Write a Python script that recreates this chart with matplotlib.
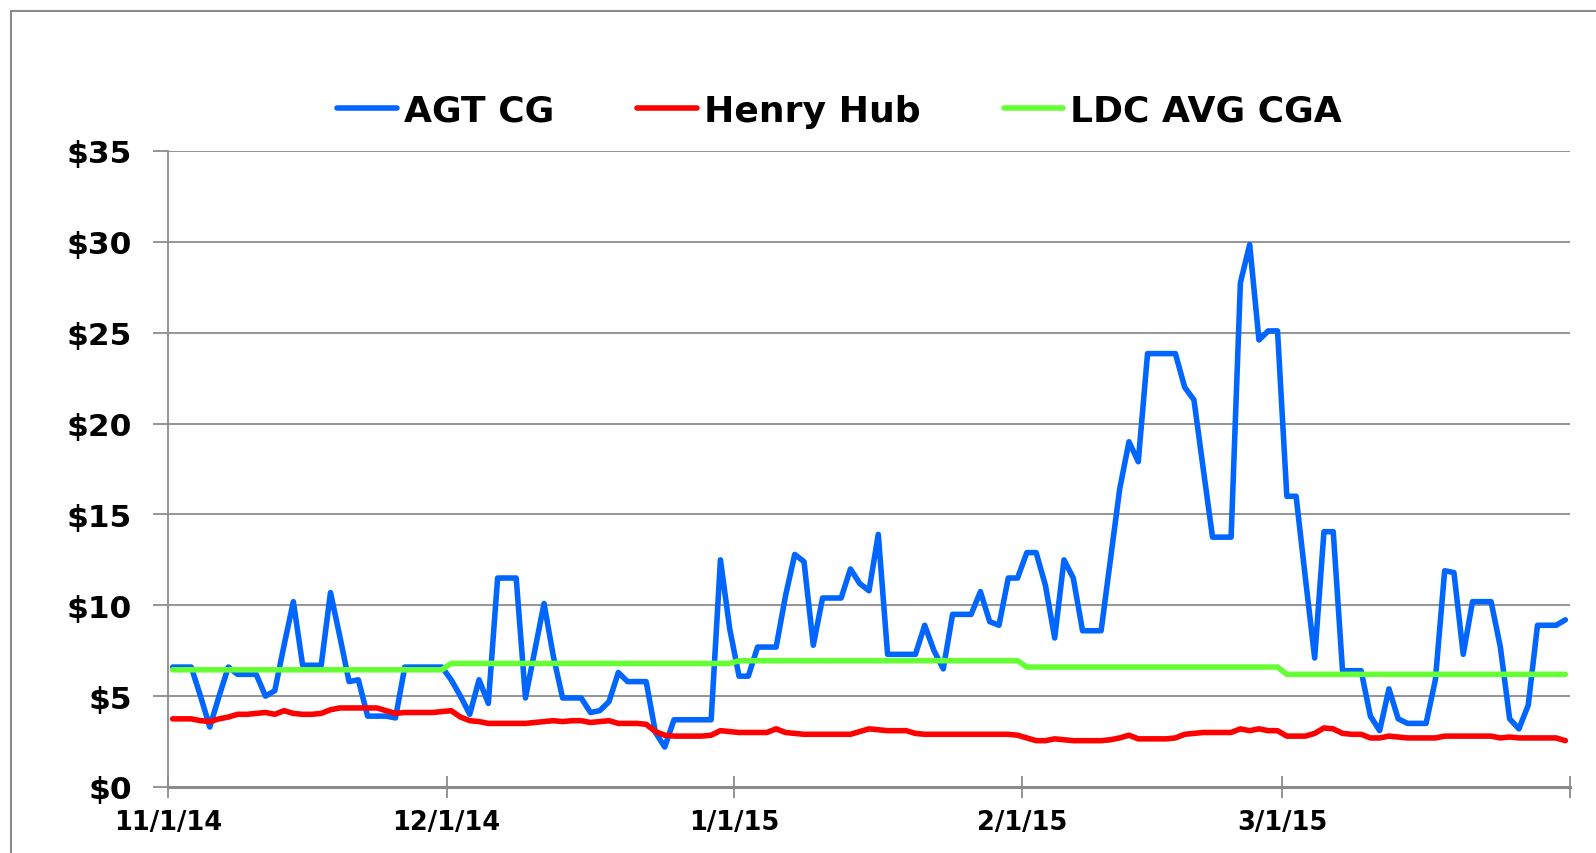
import numpy as np
import pandas as pd
import matplotlib
matplotlib.use('Agg')
import matplotlib.pyplot as plt
import matplotlib.dates as mdates
from matplotlib.patches import Rectangle

# ===================== DATA =====================
dates = pd.date_range('2014-11-01', '2015-03-31', freq='D')

agt_cg = [
    6.6, 6.6, 6.6, 5.0, 3.3, 5.0, 6.6, 6.2, 6.2, 6.2,
    5.0, 5.3, 7.8, 10.2, 6.7, 6.7, 6.7, 10.7, 8.3, 5.8,
    5.9, 3.9, 3.9, 3.9, 3.8, 6.6, 6.6, 6.6, 6.6, 6.6,
    5.9, 5.0, 4.0, 5.9, 4.6, 11.5, 11.5, 11.5, 4.9, 7.5,
    10.1, 7.2, 4.9, 4.9, 4.9, 4.1, 4.2, 4.7, 6.3, 5.8,
    5.8, 5.8, 3.0, 2.2, 3.7, 3.7, 3.7, 3.7, 3.7, 12.5,
    8.7, 6.1, 6.1, 7.7, 7.7, 7.7, 10.5, 12.8, 12.4, 7.8,
    10.4, 10.4, 10.4, 12.0, 11.2, 10.8, 13.9, 7.3, 7.3, 7.3,
    7.3, 8.9, 7.5, 6.5, 9.5, 9.5, 9.5, 10.75, 9.1, 8.9,
    11.5, 11.5, 12.9, 12.9, 11.1, 8.2, 12.5, 11.5, 8.6, 8.6,
    8.6, 12.5, 16.4, 19.0, 17.9, 23.85, 23.85, 23.85, 23.85, 22.0,
    21.3, 17.5, 13.75, 13.75, 13.75, 27.75, 29.85, 24.6, 25.1, 25.1,
    16.0, 16.0, 11.5, 7.1, 14.05, 14.05, 6.4, 6.4, 6.4, 3.9,
    3.1, 5.4, 3.75, 3.5, 3.5, 3.5, 5.9, 11.9, 11.8, 7.3,
    10.2, 10.2, 10.2, 7.7, 3.75, 3.2, 4.5, 8.9, 8.9, 8.9, 9.2,
]

henry_hub = [
    3.75, 3.75, 3.75, 3.65, 3.6, 3.75, 3.85, 4.0, 4.0, 4.05,
    4.1, 4.0, 4.2, 4.05, 4.0, 4.0, 4.05, 4.25, 4.35, 4.35,
    4.35, 4.35, 4.35, 4.2, 4.05, 4.1, 4.1, 4.1, 4.1, 4.15,
    4.2, 3.85, 3.65, 3.6, 3.5, 3.5, 3.5, 3.5, 3.5, 3.55,
    3.6, 3.65, 3.6, 3.65, 3.65, 3.55, 3.6, 3.65, 3.5, 3.5,
    3.5, 3.45, 3.05, 2.85, 2.8, 2.8, 2.8, 2.8, 2.85, 3.1,
    3.05, 3.0, 3.0, 3.0, 3.0, 3.2, 3.0, 2.95, 2.9, 2.9,
    2.9, 2.9, 2.9, 2.9, 3.05, 3.2, 3.15, 3.1, 3.1, 3.1,
    2.95, 2.9, 2.9, 2.9, 2.9, 2.9, 2.9, 2.9, 2.9, 2.9,
    2.9, 2.85, 2.7, 2.55, 2.55, 2.65, 2.6, 2.55, 2.55, 2.55,
    2.55, 2.6, 2.7, 2.85, 2.65, 2.65, 2.65, 2.65, 2.7, 2.9,
    2.95, 3.0, 3.0, 3.0, 3.0, 3.2, 3.1, 3.2, 3.1, 3.1,
    2.8, 2.8, 2.8, 2.95, 3.25, 3.2, 2.95, 2.9, 2.9, 2.7,
    2.7, 2.8, 2.75, 2.7, 2.7, 2.7, 2.7, 2.8, 2.8, 2.8,
    2.8, 2.8, 2.8, 2.7, 2.75, 2.7, 2.7, 2.7, 2.7, 2.7, 2.55,
]

ldc_months = ['2014-11', '2014-12', '2015-01', '2015-02', '2015-03']
ldc_avg_cga = [6.45, 6.8, 6.95, 6.6, 6.2]

tick_dates = ['2014-11-01', '2014-12-01', '2015-01-01', '2015-02-01', '2015-03-01', '2015-04-01']
tick_labels = ['11/1/14', '12/1/14', '1/1/15', '2/1/15', '3/1/15', '']
y_ticks = [0, 5, 10, 15, 20, 25, 30, 35]

# monthly LDC value repeated for every day of its month
month_val = dict(zip(ldc_months, ldc_avg_cga))
ldc_daily = [month_val[d.strftime('%Y-%m')] for d in dates]

# ===================== PLOT =====================
W, H = 1596, 854
fig = plt.figure(figsize=(W / 100, H / 100), dpi=100)
fig.patch.set_facecolor('white')

ax = fig.add_axes([168 / W, 1 - 788 / H, (1570 - 168) / W, (788 - 152) / H])

x = mdates.date2num(dates)
half = 0.5  # excel "between tick marks": points sit mid-slot

lw = 4.0
ax.plot(x, agt_cg, color='#0066ff', lw=lw, label='AGT CG',
        solid_joinstyle='round', solid_capstyle='round', zorder=3)
ax.plot(x, henry_hub, color='#ff0000', lw=lw, label='Henry Hub',
        solid_joinstyle='round', solid_capstyle='round', zorder=3)
ax.plot(x, ldc_daily, color='#66ff33', lw=lw, label='LDC AVG CGA',
        solid_joinstyle='round', solid_capstyle='round', zorder=3)

grid_col = '#8c8c8c'
ax.set_ylim(0, 35)
ax.set_yticks(y_ticks)
ax.set_yticklabels([f'${v}' for v in y_ticks])
ax.yaxis.grid(True, color=grid_col, lw=1.3)
ax.set_axisbelow(True)

tx = mdates.date2num(pd.to_datetime(tick_dates)) - half
ax.set_xticks(tx)
ax.set_xticklabels(tick_labels)
ax.set_xlim(x[0] - half, x[-1] + half)

for side in ['top', 'right']:
    ax.spines[side].set_visible(False)
ax.spines['left'].set_color(grid_col)
ax.spines['left'].set_linewidth(1.3)
ax.spines['bottom'].set_color(grid_col)
ax.spines['bottom'].set_linewidth(2.2)

ax.tick_params(axis='y', direction='out', length=11, width=1.3, color=grid_col,
               pad=15, labelsize=22.5)
ax.tick_params(axis='x', direction='inout', length=16, width=1.3, color=grid_col,
               pad=8, labelsize=18.5)
for lab in ax.get_yticklabels() + ax.get_xticklabels():
    lab.set_fontweight('bold')

leg = fig.legend(loc='center', bbox_to_anchor=(0.526, 0.869), ncol=3, frameon=False,
                 prop={'weight': 'bold', 'size': 26}, handlelength=1.65,
                 handletextpad=0.2, columnspacing=2.3)

# outer chart border (cut at right / bottom edges)
top = 1 - 12 / H
fig.add_artist(Rectangle((11 / W, -0.2), 1.2, top + 0.2,
                         transform=fig.transFigure, fill=False,
                         edgecolor='#8a8a8a', lw=1.5))

fig.savefig('out.png', dpi=100)
